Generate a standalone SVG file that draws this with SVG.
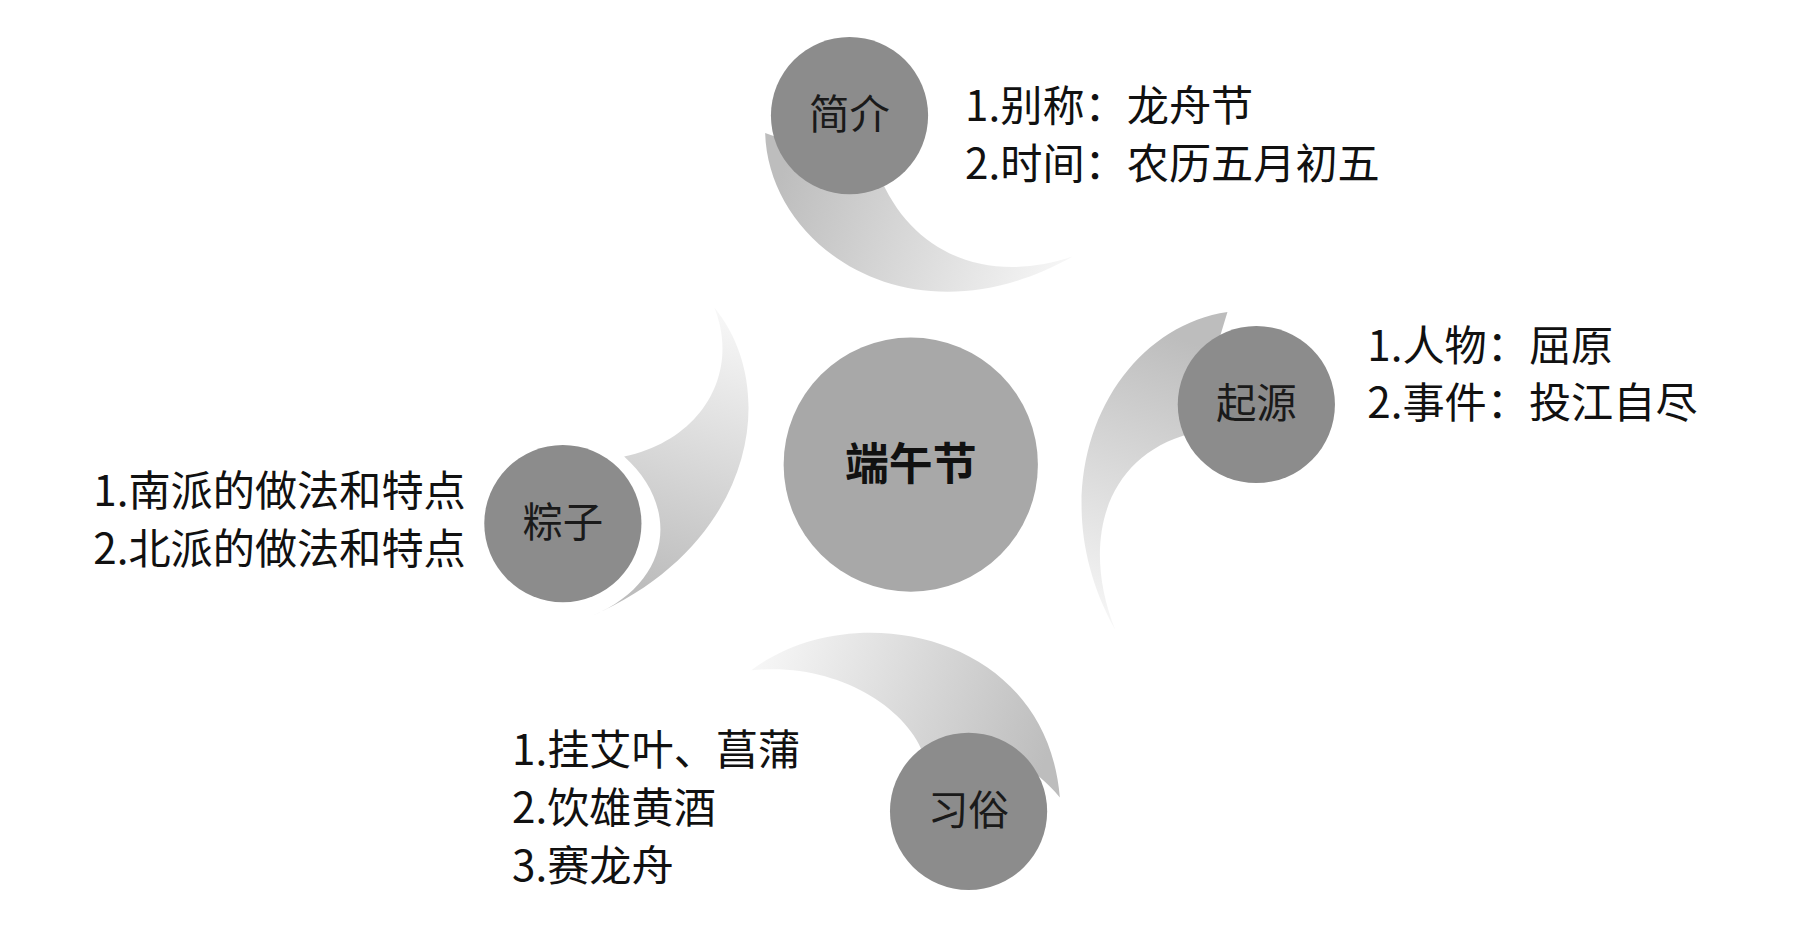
<svg xmlns="http://www.w3.org/2000/svg" width="1803" height="937" viewBox="0 0 1803 937">
<style>
.sm{fill:#8c8c8c}
.lbl{font-family:"Noto Sans CJK SC","Liberation Sans",sans-serif;font-size:36.5px;fill:#111}
.nl{font-family:"Noto Sans CJK SC","Liberation Sans",sans-serif;font-size:35px;fill:#1a1a1a;text-anchor:middle}
</style>
<defs>
<linearGradient id="g1" gradientUnits="userSpaceOnUse" x1="680" y1="140" x2="925" y2="230"><stop offset="0" stop-color="#bdbdbd"/><stop offset="1" stop-color="#f7f7f7"/></linearGradient>
<linearGradient id="g2" gradientUnits="userSpaceOnUse" x1="1040" y1="300" x2="950" y2="540"><stop offset="0" stop-color="#bdbdbd"/><stop offset="1" stop-color="#f7f7f7"/></linearGradient>
<linearGradient id="g3" gradientUnits="userSpaceOnUse" x1="540" y1="500" x2="620" y2="270"><stop offset="0" stop-color="#bdbdbd"/><stop offset="1" stop-color="#f7f7f7"/></linearGradient>
<linearGradient id="g4" gradientUnits="userSpaceOnUse" x1="900" y1="670" x2="650" y2="580"><stop offset="0" stop-color="#bdbdbd"/><stop offset="1" stop-color="#f7f7f7"/></linearGradient>
</defs>
<g transform="scale(1.1558)">
<g id="connectors">
<path fill="url(#g1)" d="M662,115 C665,215 790,300 928,222 C860,245 790,225 760,150 Z"/>
<path fill="url(#g2)" d="M1062,270 C960,285 895,420 965,545 C935,470 955,395 1030,375 Z"/>
<path fill="url(#g3)" d="M618,266 C675,335 655,470 512,533 C580,505 590,440 540,395 C610,380 640,320 618,266 Z"/>
<path fill="url(#g4)" d="M650,580 C735,515 905,545 917,690 C885,650 835,640 800,655 C785,610 720,572 650,580 Z"/>
</g>
<g id="center"><circle cx="788" cy="402" r="110" fill="#a8a8a8"/><text x="788" y="415" class="nl" style="font-weight:bold;font-size:38px;fill:#111">端午节</text></g>
<g id="n1"><circle cx="735" cy="100" r="68" class="sm"/><text x="735" y="112" class="nl">简介</text>
<text x="835" y="105" class="lbl">1.别称：龙舟节</text><text x="835" y="155" class="lbl">2.时间：农历五月初五</text></g>
<g id="n2"><circle cx="1087" cy="350" r="68" class="sm"/><text x="1087" y="362" class="nl">起源</text>
<text x="1183" y="312" class="lbl">1.人物：屈原</text><text x="1183" y="362" class="lbl">2.事件：投江自尽</text></g>
<g id="n3"><circle cx="487" cy="453" r="68" class="sm"/><text x="487" y="465" class="nl">粽子</text>
<text x="403" y="438" class="lbl" text-anchor="end">1.南派的做法和特点</text><text x="403" y="488" class="lbl" text-anchor="end">2.北派的做法和特点</text></g>
<g id="n4"><circle cx="838" cy="702" r="68" class="sm"/><text x="838" y="714" class="nl">习俗</text>
<text x="443" y="662" class="lbl">1.挂艾叶、菖蒲</text><text x="443" y="712" class="lbl">2.饮雄黄酒</text><text x="443" y="762" class="lbl">3.赛龙舟</text></g>
</g>
</svg>
